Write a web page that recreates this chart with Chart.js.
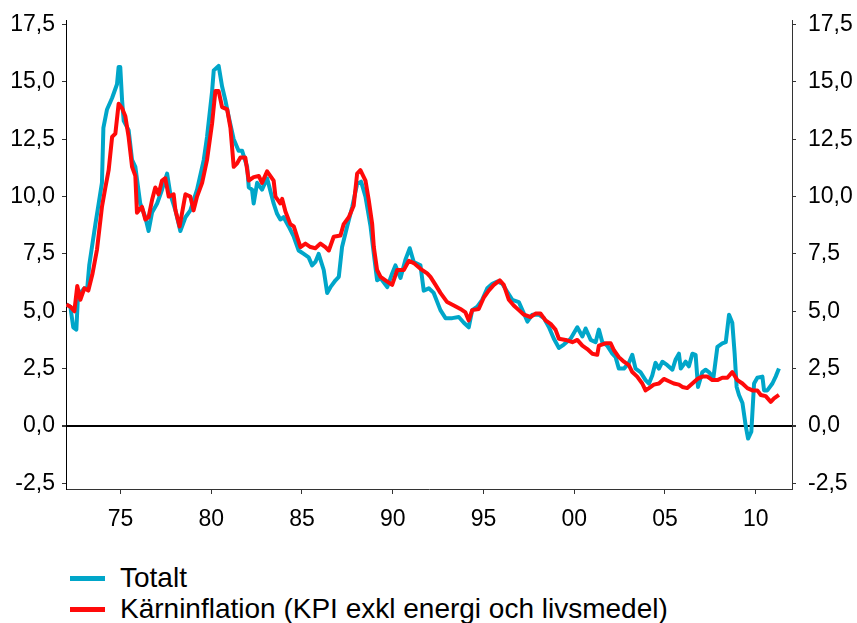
<!DOCTYPE html>
<html>
<head>
<meta charset="utf-8">
<script src="https://cdn.jsdelivr.net/npm/chart.js@4/dist/chart.umd.min.js"></script>
<style>
  body { margin: 0; background: #fff; }
  #wrap { position: relative; width: 857px; height: 623px; overflow: hidden; }
  #box { position: absolute; left: 0; top: 0; width: 857px; height: 548px; }
  .row { position: absolute; left: 70px; height: 34px; display: flex; align-items: center;
         font-family: "Liberation Sans", Arial, sans-serif; font-size: 28px; color: #000; white-space: nowrap; }
  .swatch { width: 35px; height: 5px; margin-right: 15px; }
</style>
</head>
<body>
<div id="wrap">
  <div id="box"><canvas id="chart"></canvas></div>
  <div id="legend"></div>
</div>
<script>
// KPI, årlig procentuell förändring
const totaltYears = [1972.02,1972.24,1972.40,1972.57,1972.65,1972.79,1973.01,1973.17,1973.28,1973.43,
  1973.62,1973.80,1973.98,1974.06,1974.26,1974.54,1974.81,1974.90,1974.99,1975.09,
  1975.18,1975.45,1975.64,1975.82,1976.09,1976.37,1976.55,1976.74,1977.02,1977.29,
  1977.57,1977.75,1978.03,1978.30,1978.58,1978.85,1979.22,1979.59,1979.77,1980.05,
  1980.14,1980.41,1980.60,1980.78,1980.96,1981.24,1981.51,1981.70,1981.98,1982.07,
  1982.25,1982.34,1982.53,1982.80,1983.08,1983.44,1983.63,1983.81,1983.99,1984.27,
  1984.55,1984.82,1985.10,1985.37,1985.56,1985.74,1985.92,1986.20,1986.39,1986.57,
  1986.85,1987.03,1987.21,1987.49,1987.77,1988.04,1988.26,1988.50,1988.78,1988.96,
  1989.14,1989.33,1989.70,1989.97,1990.15,1990.43,1990.70,1990.94,1991.16,1991.53,
  1991.71,1991.99,1992.26,1992.63,1992.91,1993.28,1993.64,1993.92,1994.19,1994.38,
  1994.66,1994.93,1995.21,1995.49,1995.76,1996.04,1996.31,1996.59,1996.95,1997.23,
  1997.42,1997.69,1998.05,1998.33,1998.61,1998.88,1999.16,1999.43,1999.80,2000.17,
  2000.45,2000.63,2000.91,2001.18,2001.36,2001.55,2001.82,2002.10,2002.28,2002.46,
  2002.74,2003.01,2003.20,2003.38,2003.65,2003.93,2004.12,2004.30,2004.48,2004.67,
  2004.86,2005.13,2005.41,2005.59,2005.77,2005.87,2006.14,2006.32,2006.51,2006.69,
  2006.82,2007.06,2007.24,2007.42,2007.67,2007.89,2008.16,2008.35,2008.53,2008.71,
  2008.84,2008.95,2009.08,2009.27,2009.45,2009.58,2009.76,2009.91,2010.09,2010.37,
  2010.46,2010.64,2010.92,2011.10,2011.28];
const totaltValues = [5.3,5.2,4.3,4.2,5.5,5.8,6.0,6.0,7.0,7.8,
  8.8,9.7,10.6,13.0,13.8,14.3,14.9,15.65,15.65,14.2,
  13.3,12.9,11.6,11.3,9.7,9.1,8.5,9.3,9.7,10.3,
  11.0,10.1,9.4,8.5,9.1,9.4,10.3,11.6,12.6,14.6,
  15.5,15.7,14.8,14.2,13.5,12.5,12.0,12.0,11.3,10.4,
  10.3,9.7,10.6,10.3,10.8,9.7,9.25,9.0,9.1,8.7,
  8.25,7.65,7.5,7.35,7.0,7.15,7.5,6.8,5.8,6.05,
  6.35,6.5,7.8,8.7,9.55,10.55,10.65,10.0,8.7,7.5,
  6.35,6.45,6.05,6.65,7.0,6.45,7.25,7.75,7.15,7.0,
  5.9,6.0,5.8,5.05,4.7,4.7,4.75,4.5,4.3,5.05,
  5.2,5.5,6.0,6.2,6.3,6.2,5.85,5.5,5.4,4.9,
  4.55,4.85,4.85,4.7,4.3,3.8,3.4,3.55,3.8,4.3,
  3.9,4.25,3.75,3.65,4.2,3.65,3.5,3.15,3.0,2.5,
  2.5,2.75,3.1,2.5,2.35,2.0,1.85,2.2,2.75,2.5,
  2.8,2.65,2.45,2.9,3.15,2.5,2.8,2.6,3.15,3.1,
  1.7,2.35,2.45,2.35,2.1,3.45,3.6,3.65,4.85,4.5,
  3.15,1.7,1.35,1.0,0.0,-0.55,-0.25,1.85,2.1,2.15,
  1.55,1.55,1.85,2.15,2.5];

const coreYears = [1972.02,1972.24,1972.46,1972.62,1972.79,1973.01,1973.23,1973.45,1973.71,1973.98,
  1974.17,1974.35,1974.54,1974.72,1974.90,1975.09,1975.27,1975.45,1975.64,1975.82,
  1975.91,1976.19,1976.37,1976.55,1976.74,1976.92,1977.10,1977.29,1977.47,1977.66,
  1977.93,1978.03,1978.26,1978.58,1978.85,1979.03,1979.22,1979.50,1979.77,1980.05,
  1980.23,1980.41,1980.60,1980.88,1981.06,1981.24,1981.43,1981.61,1981.88,1982.07,
  1982.34,1982.62,1982.80,1983.08,1983.44,1983.54,1983.81,1983.91,1984.09,1984.36,
  1984.55,1984.73,1984.92,1985.19,1985.47,1985.74,1986.02,1986.29,1986.48,1986.75,
  1987.12,1987.30,1987.58,1987.85,1988.04,1988.22,1988.50,1988.68,1988.87,1988.96,
  1989.14,1989.33,1989.60,1989.97,1990.25,1990.61,1990.89,1991.16,1991.53,1991.90,
  1992.08,1992.36,1992.63,1993.00,1993.37,1993.73,1994.01,1994.19,1994.38,1994.74,
  1995.02,1995.29,1995.57,1995.90,1996.12,1996.40,1996.67,1996.95,1997.23,1997.59,
  1997.87,1998.14,1998.42,1998.70,1998.97,1999.16,1999.53,1999.90,2000.17,2000.45,
  2000.72,2001.00,2001.27,2001.36,2001.73,2002.01,2002.19,2002.46,2002.74,2003.01,
  2003.20,2003.47,2003.75,2003.93,2004.12,2004.39,2004.67,2004.94,2005.22,2005.49,
  2005.77,2005.96,2006.23,2006.51,2006.79,2007.06,2007.34,2007.61,2007.89,2008.16,
  2008.44,2008.71,2008.99,2009.27,2009.54,2009.82,2010.09,2010.28,2010.55,2010.83,
  2011.01,2011.28];
const coreValues = [5.3,5.2,5.0,6.1,5.5,6.0,5.9,6.6,7.7,9.55,
  10.4,11.15,12.6,12.75,14.05,13.85,13.5,12.6,11.3,10.9,
  9.3,9.55,9.0,9.1,9.85,10.4,10.1,10.7,10.8,10.0,
  10.1,9.4,8.7,10.1,10.0,9.4,10.0,10.6,11.6,13.2,
  14.6,14.6,13.9,13.8,13.0,11.3,11.45,11.7,11.7,10.7,
  10.85,10.9,10.6,11.1,10.7,10.0,9.7,9.9,9.35,8.8,
  8.7,8.25,7.8,7.95,7.8,7.75,7.95,7.8,7.65,8.25,
  8.3,8.8,9.1,9.6,11.0,11.15,10.7,9.85,8.8,7.8,
  6.8,6.5,6.35,6.15,6.8,6.8,7.2,7.1,6.85,6.65,
  6.5,6.15,5.8,5.4,5.25,5.1,4.95,4.6,5.05,5.1,
  5.6,5.9,6.15,6.35,6.15,5.5,5.25,5.05,4.85,4.75,
  4.9,4.9,4.6,4.45,4.2,3.8,3.75,3.65,3.75,3.5,
  3.35,3.15,3.1,3.5,3.6,3.6,3.3,3.0,2.8,2.65,
  2.35,2.15,1.85,1.55,1.65,1.8,1.85,2.05,1.95,1.85,
  1.8,1.7,1.65,1.85,2.05,2.15,2.15,2.0,2.0,2.1,
  2.1,2.35,2.0,1.85,1.65,1.55,1.55,1.35,1.3,1.05,
  1.2,1.35];

const xTicks = [1975, 1980, 1985, 1990, 1995, 2000, 2005, 2010];
const yTicks = [-2.5, 0, 2.5, 5, 7.5, 10, 12.5, 15, 17.5];

const FONT = { family: "'Liberation Sans', Arial, sans-serif", size: 23 };
// tight line height keeps the top label from pushing the plot down
const YFONT = { family: FONT.family, size: 23, lineHeight: 0.6 };
const AXIS = '#333';

const pts = (xs, ys) => xs.map((x, i) => ({ x: x, y: ys[i] }));
const fmtY = (v) => v.toFixed(1).replace('.', ',');

function yScale(pos) {
  const left = pos === 'left';
  return {
    type: 'linear',
    position: pos,
    min: -2.75,
    max: 17.7,
    afterBuildTicks: (s) => { s.ticks = yTicks.map((v) => ({ value: v })); },
    afterFit: (s) => { s.width = left ? 66 : 65; },
    border: { color: left ? '#000' : AXIS, width: 1 },
    grid: {
      drawOnChartArea: left,
      // only the zero line is drawn across the plot
      color: (ctx) => (ctx.tick && ctx.tick.value === 0 ? '#000' : 'rgba(0,0,0,0)'),
      lineWidth: (ctx) => (ctx.tick && ctx.tick.value === 0 ? 2 : 1),
      tickColor: AXIS,
      tickLength: 4,
    },
    ticks: {
      font: YFONT,
      color: '#000',
      padding: left ? 7 : 12,
      callback: (v) => fmtY(v),
    },
  };
}

const datasets = [
  {
    label: 'Totalt',
    data: pts(totaltYears, totaltValues),
    borderColor: '#00a6c9',
    order: 1,
  },
  {
    label: 'Kärninflation (KPI exkl energi och livsmedel)',
    data: pts(coreYears, coreValues),
    borderColor: '#ff0a0a',
    order: 0,
  },
];
datasets.forEach((d) => {
  d.borderWidth = 4;
  d.pointRadius = 0;
  d.tension = 0;
  d.fill = false;
  d.borderJoinStyle = 'round';
  d.yAxisID = 'y';
});

const chart = new Chart(document.getElementById('chart'), {
  type: 'line',
  data: { datasets: datasets },
  options: {
    responsive: true,
    maintainAspectRatio: false,
    animation: false,
    layout: { padding: { top: 20, left: 0, right: 0, bottom: 0 } },
    plugins: { legend: { display: false }, tooltip: { enabled: false } },
    scales: {
      x: {
        type: 'linear',
        position: 'bottom',
        min: 1972,
        max: 2012,
        afterBuildTicks: (s) => { s.ticks = xTicks.map((v) => ({ value: v })); },
        afterFit: (s) => { s.height = 59; },
        border: { color: AXIS, width: 1 },
        grid: { drawOnChartArea: false, tickColor: AXIS, tickLength: 5 },
        ticks: {
          font: FONT,
          color: '#000',
          padding: 12,
          maxRotation: 0,
          autoSkip: false,
          callback: (v) => String(v % 100).padStart(2, '0'),
        },
      },
      y: yScale('left'),
      y2: yScale('right'),
    },
  },
});

// legend below the plot, one entry per row
const legend = document.getElementById('legend');
const rowCenters = [578, 609];
chart.data.datasets.forEach((d, i) => {
  const row = document.createElement('div');
  row.className = 'row';
  row.style.top = (rowCenters[i] - 17) + 'px';
  const sw = document.createElement('span');
  sw.className = 'swatch';
  sw.style.background = d.borderColor;
  row.appendChild(sw);
  row.appendChild(document.createTextNode(d.label));
  legend.appendChild(row);
});
</script>
</body>
</html>
